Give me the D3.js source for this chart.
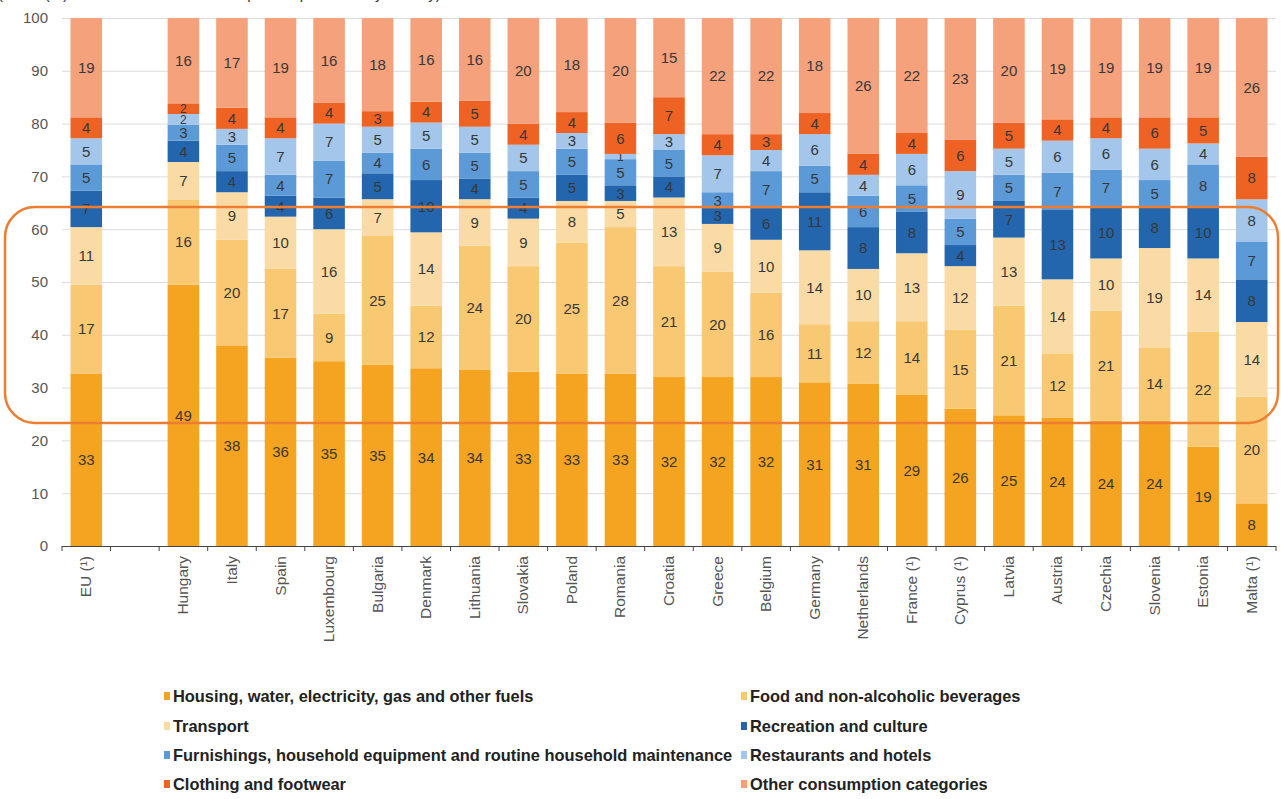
<!DOCTYPE html>
<html>
<head>
<meta charset="utf-8">
<script src="https://cdn.jsdelivr.net/npm/d3@7"></script>
<style>
  html, body { margin: 0; padding: 0; background: #fff; }
  svg { display: block; }
</style>
</head>
<body>
<svg id="chart" width="1281" height="799"></svg>
<script>
// Household expenditure shares by consumption purpose (%), one stacked bar per country
const categories = ["EU (¹)", "", "Hungary", "Italy", "Spain", "Luxembourg", "Bulgaria", "Denmark",
  "Lithuania", "Slovakia", "Poland", "Romania", "Croatia", "Greece", "Belgium", "Germany",
  "Netherlands", "France (¹)", "Cyprus (¹)", "Latvia", "Austria", "Czechia", "Slovenia", "Estonia", "Malta (¹)"];

const housing     = [33, null, 49, 38, 36, 35, 35, 34, 34, 33, 33, 33, 32, 32, 32, 31, 31, 29, 26, 25, 24, 24, 24, 19, 8];
const food        = [17, null, 16, 20, 17, 9, 25, 12, 24, 20, 25, 28, 21, 20, 16, 11, 12, 14, 15, 21, 12, 21, 14, 22, 20];
const transport   = [11, null, 7, 9, 10, 16, 7, 14, 9, 9, 8, 5, 13, 9, 10, 14, 10, 13, 12, 13, 14, 10, 19, 14, 14];
const recreation  = [7, null, 4, 4, 4, 6, 5, 10, 4, 4, 5, 3, 4, 3, 6, 11, 8, 8, 4, 7, 13, 10, 8, 10, 8];
const furnishings = [5, null, 3, 5, 4, 7, 4, 6, 5, 5, 5, 5, 5, 3, 7, 5, 6, 5, 5, 5, 7, 7, 5, 8, 7];
const restaurants = [5, null, 2, 3, 7, 7, 5, 5, 5, 5, 3, 1, 3, 7, 4, 6, 4, 6, 9, 5, 6, 6, 6, 4, 8];
const clothing    = [4, null, 2, 4, 4, 4, 3, 4, 5, 4, 4, 6, 7, 4, 3, 4, 4, 4, 6, 5, 4, 4, 6, 5, 8];
const other       = [19, null, 16, 17, 19, 16, 18, 16, 16, 20, 18, 20, 15, 22, 22, 18, 26, 22, 23, 20, 19, 19, 19, 19, 26];

const seriesNames = [
  "Housing, water, electricity, gas and other fuels",
  "Food and non-alcoholic beverages",
  "Transport",
  "Recreation and culture",
  "Furnishings, household equipment and routine household maintenance",
  "Restaurants and hotels",
  "Clothing and footwear",
  "Other consumption categories"
];
const seriesColors = ["#F5A421", "#F8C872", "#FBDBA5", "#2366AE", "#5B9AD6", "#A3C6EA", "#EE6324", "#F4A17C"];
const yTicks = [0, 10, 20, 30, 40, 50, 60, 70, 80, 90, 100];

const seriesValues = [housing, food, transport, recreation, furnishings, restaurants, clothing, other];
const keys = seriesNames;

// Build one row per category for d3.stack
const rows = categories.map((c, i) => {
  const r = { category: c };
  keys.forEach((k, s) => { r[k] = seriesValues[s][i]; });
  return r;
});

const svg = d3.select("#chart");
const font = "'Liberation Sans', Arial, sans-serif";

// Subtitle line, running off the top edge
svg.append("text")
  .attr("x", -2).attr("y", -1)
  .attr("fill", "#333")
  .style("font-family", font).style("font-size", "15px")
  .text("(share (%) of total household consumption expenditure by country)");

const x = d3.scaleBand().domain(categories).range([62, 1276]).paddingInner(0.35).paddingOuter(0.175);
const y = d3.scaleLinear().domain([0, 100]).range([546, 18]);

const stacked = d3.stack()
  .keys(keys)
  .value((d, k) => d[k] || 0)
  .offset(d3.stackOffsetExpand)(rows);

// Gridlines and y labels
const yAxis = svg.append("g")
  .attr("transform", "translate(62,0)")
  .call(d3.axisLeft(y).tickValues(yTicks).tickSize(-1214).tickPadding(14));
yAxis.select(".domain").remove();
yAxis.selectAll(".tick line").attr("stroke", "#dcdcdc").attr("stroke-width", 1);
yAxis.selectAll(".tick text")
  .attr("fill", "#555").style("font-family", font).style("font-size", "15px");

// Stacked bars
const color = d3.scaleOrdinal().domain(keys).range(seriesColors);
const layers = svg.append("g").selectAll("g")
  .data(stacked).join("g")
  .attr("fill", d => color(d.key));

const segments = d => d.map(p => ({ key: d.key, p, v: p.data[d.key] })).filter(e => e.v != null && e.v > 0);

layers.selectAll("rect")
  .data(segments)
  .join("rect")
  .attr("x", e => x(e.p.data.category))
  .attr("width", x.bandwidth())
  .attr("y", e => y(e.p[1] * 100))
  .attr("height", e => y(e.p[0] * 100) - y(e.p[1] * 100));

// Value labels inside segments; very thin segments get a smaller label
layers.selectAll("text")
  .data(segments)
  .join("text")
  .attr("x", e => x(e.p.data.category) + x.bandwidth() / 2)
  .attr("y", e => (y(e.p[0] * 100) + y(e.p[1] * 100)) / 2)
  .attr("dy", "0.36em")
  .attr("text-anchor", "middle")
  .attr("fill", "#383838")
  .style("font-family", font)
  .style("font-size", e => (y(e.p[0] * 100) - y(e.p[1] * 100)) < 12 ? "12px" : "15px")
  .text(e => e.v);

// X axis line with ticks at the category boundaries
const xAxisG = svg.append("g");
const edge = i => x.range()[0] + i * x.step() - x.step() * x.paddingInner() / 2 + x.step() * x.paddingOuter();
xAxisG.append("line")
  .attr("x1", x.range()[0]).attr("x2", x.range()[1])
  .attr("y1", y(0) + 0.5).attr("y2", y(0) + 0.5)
  .attr("stroke", "#444").attr("stroke-width", 1);
xAxisG.selectAll("line.tick")
  .data(d3.range(categories.length + 1))
  .join("line")
  .attr("class", "tick")
  .attr("x1", edge).attr("x2", edge)
  .attr("y1", y(0)).attr("y2", y(0) + 5)
  .attr("stroke", "#444").attr("stroke-width", 1);

// Rotated category labels
xAxisG.selectAll("text")
  .data(categories)
  .join("text")
  .attr("transform", c => `translate(${x(c) + x.bandwidth() / 2 + 5},${y(0) + 10}) rotate(-90)`)
  .attr("text-anchor", "end")
  .attr("fill", "#555")
  .style("font-family", font)
  .style("font-size", "15.5px")
  .text(c => c);

// Highlight frame around the 25-65 % band
svg.append("rect")
  .attr("x", 5).attr("y", 207).attr("width", 1273).attr("height", 216)
  .attr("rx", 30).attr("ry", 30)
  .attr("fill", "none").attr("stroke", "#ED7D31").attr("stroke-width", 2.5);

// Legend, two columns
const legend = svg.append("g");
const legendCols = [164, 741];
const legendRows = [696, 726, 755, 784];
seriesNames.forEach((name, i) => {
  const cx = legendCols[i % 2];
  const cy = legendRows[Math.floor(i / 2)];
  const g = legend.append("g").attr("transform", `translate(${cx},${cy})`);
  g.append("rect").attr("x", 0).attr("y", -4).attr("width", 6).attr("height", 8).attr("fill", seriesColors[i]);
  g.append("text")
    .attr("x", 9).attr("y", 0).attr("dy", "0.35em")
    .attr("fill", "#222")
    .style("font-family", font)
    .style("font-weight", "bold")
    .style("font-size", "16.4px")
    .text(name);
});
</script>
</body>
</html>
